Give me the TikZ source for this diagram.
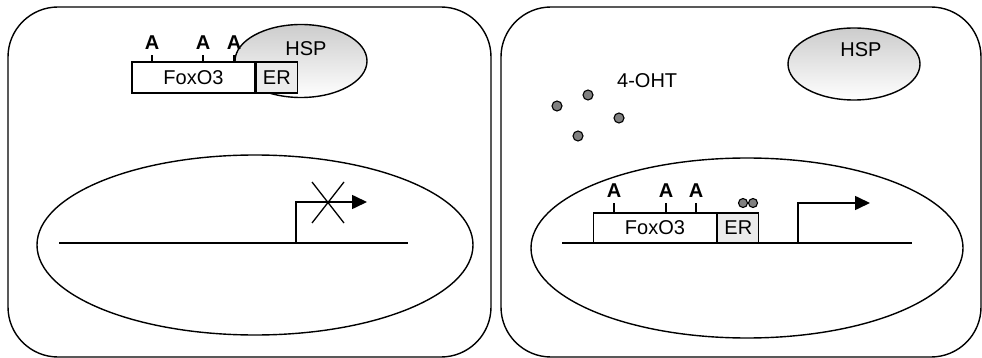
\documentclass[tikz,border=0pt]{standalone}
\usepackage{fontspec}
\setmainfont{Liberation Sans}
\usetikzlibrary{shapes.geometric,arrows.meta}
\begin{document}
\begin{tikzpicture}[x=1pt,y=-1pt,
  panel/.style={draw,line width=1.4pt,rounded corners=50pt},
  nucleus/.style={draw,ellipse,line width=1.4pt,inner sep=0pt},
  dna/.style={line width=2.2pt},
  gene/.style={draw,fill=white,line width=1.3pt,minimum width=123pt,minimum height=31pt,inner sep=0pt,font=\fontsize{20}{22}\selectfont},
  erbox/.style={draw,fill=black!8,line width=1.3pt,minimum width=41pt,minimum height=31pt,inner sep=0pt,font=\fontsize{20}{22}\selectfont},
  alabel/.style={anchor=base,inner sep=0pt,outer ysep=5pt,font=\fontsize{20}{22}\selectfont\bfseries},
  tick/.style={line width=1.2pt},
  hsp/.style={draw,ellipse,line width=1.4pt,top color=black!20,bottom color=white,minimum width=132pt,minimum height=73pt,inner sep=0pt},
  txt/.style={anchor=base,inner sep=0pt,font=\fontsize{20}{22}\selectfont},
  ligand/.style={draw,circle,fill=black!50,line width=1.1pt,inner sep=0pt,minimum size=10pt},
  promoter/.style={line width=1.6pt,-{Triangle[length=15pt,width=14pt]}},
  cross/.style={line width=1.3pt}]
\useasboundingbox (0,0) rectangle (982,358);

% ---------- inactive state ----------
\draw[panel] (8,7) rectangle (491,357);
\node[nucleus,minimum width=436pt,minimum height=180pt] (nucL) at (255,245) {};

\node[hsp] (hspL) at (301,61) {};
\node[txt] (hspLt) at (306,56) {HSP};

\node[gene] (foxL) at (193.5,77.5) {FoxO3};
\node[erbox,anchor=west] (erL) at (foxL.east) {ER};
\node[alabel] (a1L) at (152,50) {A};
\node[alabel] (a2L) at (203,50) {A};
\node[alabel] (a3L) at (234,50) {A};
\foreach \a in {a1L,a2L,a3L}
  \draw[tick] (foxL.north -| \a) -- (\a.south);

\coordinate (dnaLa) at (59,243);
\coordinate (dnaLb) at (408,243);
\draw[dna] (dnaLa) -- (dnaLb);
\coordinate (tssL) at (296,243);
\coordinate (tipL) at (367,202);
\draw[promoter] (tssL) |- (tipL);
\coordinate (xL1) at (312,182);
\coordinate (xL2) at (344,223);
\draw[cross] (xL1) -- (xL2) (xL1 |- xL2) -- (xL2 |- xL1);

% ---------- active state ----------
\draw[panel] (501,7) rectangle (981,357);
\node[nucleus,minimum width=432pt,minimum height=180pt] (nucR) at (747,248) {};

\node[hsp,minimum height=72pt] (hspR) at (854,64) {};
\node[txt] (hspRt) at (861,57) {HSP};

\node[txt,anchor=base west] (oht) at (617,88) {4-OHT};
\node[ligand] (l1) at (557,106) {};
\node[ligand] (l2) at (588,95) {};
\node[ligand] (l3) at (619,118) {};
\node[ligand] (l4) at (578,136) {};

\coordinate (dnaRa) at (562,243);
\coordinate (dnaRb) at (912,243);
\draw[dna] (dnaRa) -- (dnaRb);

\node[gene,minimum height=30pt] (foxR) at (655,228) {FoxO3};
\node[erbox,anchor=west,minimum height=30pt] (erR) at (foxR.east) {ER};
\node[alabel] (a1R) at (614,198) {A};
\node[alabel] (a2R) at (666,198) {A};
\node[alabel] (a3R) at (696,198) {A};
\foreach \a in {a1R,a2R,a3R}
  \draw[tick] (foxR.north -| \a) -- (\a.south);
\node[ligand,minimum size=9pt] (b1) at (743,203) {};
\node[ligand,minimum size=9pt] (b2) at (753,203) {};

\coordinate (tssR) at (798,243);
\coordinate (tipR) at (870,203);
\draw[promoter] (tssR) |- (tipR);
\end{tikzpicture}
\end{document}
